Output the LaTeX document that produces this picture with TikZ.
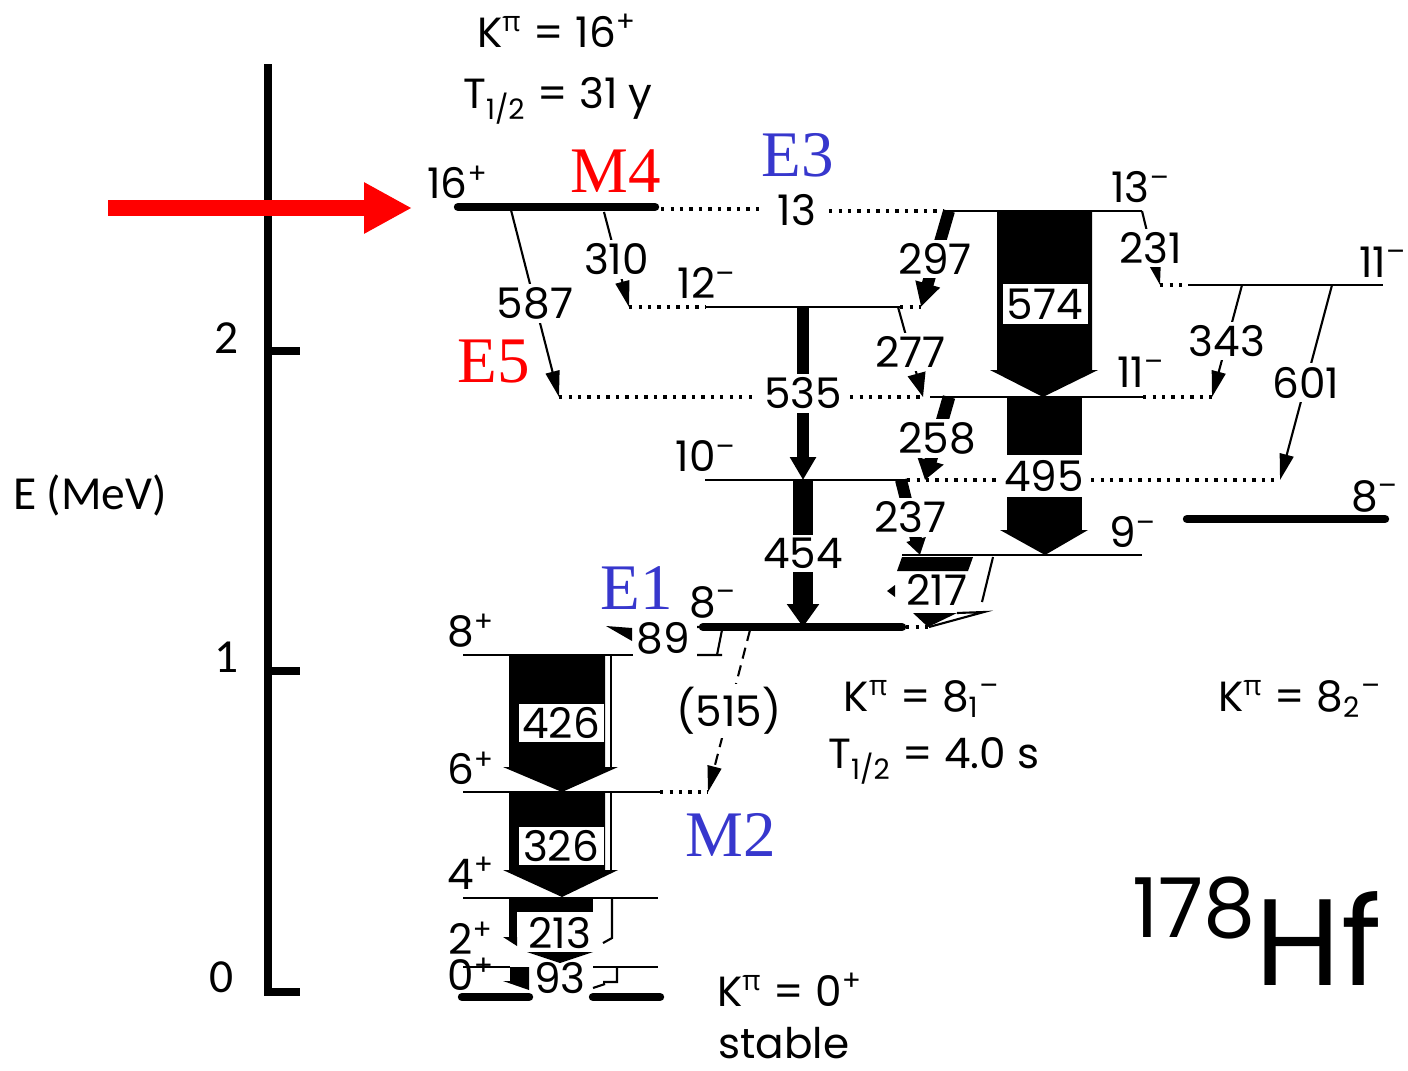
\documentclass[tikz,border=0pt]{standalone}
\usepackage{fontspec}
\setmainfont{Poppins}
\newfontfamily\grkfont{Open Sans}
\newfontfamily\serfont{Liberation Serif}
\newfontfamily\axfont{Carlito}
\usetikzlibrary{arrows.meta}
\definecolor{eblue}{RGB}{55,55,205}

\newcommand{\kpi}{K\textsuperscript{\grkfont π}}
\newcommand{\thalf}{T\textsubscript{1/2}}

\begin{document}
\begin{tikzpicture}[x=0.1mm, y=-0.1mm,
  every node/.style={font=\fontsize{12}{12}\selectfont, inner sep=1pt},
  lvl/.style={line width=0.6pt},
  klvl/.style={line width=2.4pt, line cap=round},
  dlvl/.style={line width=0.9pt, dash pattern=on 0.9pt off 1.8pt},
  gam/.style={line width=0.6pt, -{Triangle[length=2.6mm, width=1.4mm]}},
  glab/.style={fill=white},
  gbox/.style={fill=white, minimum width=8.5mm, minimum height=4mm},
  elab/.style={font=\serfont\fontsize{18.5}{18.5}\selectfont},
  axlab/.style={font=\axfont\fontsize{13.5}{13.5}\selectfont}]
  \useasboundingbox (0,0) rectangle (1408,1070);

  % energy axis
  \draw[line width=2.3pt] (268,64) -- (268,992) -- (300,992);
  \draw[line width=2.3pt] (268,351) -- (300,351) (268,671) -- (300,671);
  \node[axlab] (ax2) at (227,338) {2};
  \node[axlab] (ax1) at (227,657) {1};
  \node[axlab] (ax0) at (222,977) {0};
  \node[axlab] (elbl) at (90,495) {E (MeV)};
  \draw[red, line width=4.5pt, -{Triangle[length=4.8mm, width=4.8mm]}] (108,208) -- (412,208);

  % big intensity arrows
  \fill (997,211) -- (1092,211) -- (1092,370) -- (1098,370) -- (1043,397) -- (990,370) -- (997,370) -- cycle;
  \node[gbox] (g574) at (1045,304) {574};
  \fill (1007,397) rectangle (1082,530);
  \fill (1000,530) -- (1088,530) -- (1045,555) -- cycle;
  \node[gbox, minimum width=9.2mm, minimum height=4.2mm] (g495) at (1044,476) {495};
  \fill (509,655) -- (605,655) -- (605,767) -- (618,767) -- (562,792) -- (503,767) -- (509,767) -- cycle;
  \draw[line width=0.8pt] (611,655) -- (611,767);
  \node[gbox, minimum height=3.8mm] (g426) at (561,723) {426};
  \fill (509,792) -- (605,792) -- (605,870) -- (618,870) -- (562,897) -- (503,870) -- (509,870) -- cycle;
  \draw[line width=0.8pt] (611,792) -- (611,870);
  \node[gbox, minimum height=3.8mm] (g326) at (561,846) {326};
  \fill (509,898) rectangle (593,912);
  \fill (509,898) rectangle (517,940);
  \fill (503,937) -- (517,937) -- (517,946) -- cycle;
  \fill (527,952) -- (593,952) -- (560,963) -- cycle;
  \draw[line width=0.6pt] (612,898) -- (612,938) -- (603,943);
  \node (g213) at (560,933) {213};
  \fill (510,967) -- (529,967) -- (529,990) -- (503,981) -- (510,981) -- cycle;
  \draw[line width=0.6pt] (617,967) -- (617,982) -- (603,982) (593,988) -- (605,984);
  \node (g93) at (560,978) {93};

  % slanted bands
  \draw[line width=3.4pt, -{Triangle[length=2.4mm, width=2.4mm]}] (949,211) -- node[glab] (g297) {297} (921,307);
  \draw[line width=3.2pt, -{Triangle[length=2.3mm, width=2.5mm]}] (803,307) -- node[glab] (g535) {535} (803,480);
  \draw[line width=5.6pt, -{Triangle[length=2.3mm, width=3.1mm]}] (803,480) -- node[glab] (g454) {454} (803,627);
  \draw[line width=3.6pt, -{Triangle[length=2mm, width=2.6mm]}] (949,397) -- node[glab] (g258) {258} (925,480);
  \draw[line width=3.4pt, -{Triangle[length=1.6mm, width=1.9mm]}] (901,480) -- node[glab] (g237) {237} (920,555);
  \fill (902,557) -- (973,557) -- (968,571) -- (897,571) -- cycle;
  \node (g217) at (937,590) {217};
  \fill (913,613) -- (957,613) -- (928,627) -- cycle;
  \draw[line width=0.6pt] (993,557) -- (982,602) (957,613) -- (984,612) -- (929,627);
  \fill (887,591) -- (895,585) -- (895,597) -- cycle;
  \fill (606,626) -- (632,628) -- (632,641) -- cycle;
  \node (g89) at (663,638) {89};
  \draw[line width=0.6pt] (697,627) -- (704,627) (722,630) -- (717,655) (697,655) -- (722,655);

  % thin transitions
  \draw[gam] (511,210) -- node[glab] (g587) {587} (559,397);
  \draw[gam] (604,212) -- node[glab] (g310) {310} (629,307);
  \draw[gam] (1142,211) -- node[glab] (g231) {231} (1160,285);
  \draw[gam] (1242,285) -- node[glab] (g343) {343} (1212,397);
  \draw[gam] (1332,285) -- node[glab] (g601) {601} (1280,480);
  \draw[gam, -{Triangle[length=2.4mm, width=1.8mm]}] (898,307) -- node[glab] (g277) {277} (923,397);
  \draw[gam, dash pattern=on 3.2pt off 2pt] (750,630) -- node[glab] (g515) {(515)} (708,792);

  % levels
  \draw[klvl] (458,207) -- (655,207);
  \draw[dlvl] (661,209) -- (761,209) (829,211) -- (943,211);
  \node (g13) at (797,210) {13};
  \draw[lvl] (943,211) -- (1142,211);
  \draw[dlvl] (629,307) -- (705,307) (900,307) -- (921,307);
  \draw[lvl] (705,307) -- (900,307);
  \draw[dlvl] (1160,285) -- (1188,285);
  \draw[lvl] (1188,285) -- (1383,285);
  \draw[dlvl] (559,397) -- (757,397) (850,397) -- (923,397) (1143,397) -- (1212,397);
  \draw[lvl] (930,397) -- (1143,397);
  \draw[lvl] (705,480) -- (907,480);
  \draw[dlvl] (907,480) -- (998,480) (1091,480) -- (1280,480);
  \draw[lvl] (902,555) -- (1142,555);
  \draw[klvl] (703,627) -- (902,627);
  \draw[dlvl] (906,627) -- (928,627);
  \draw[klvl] (1187,519) -- (1385,519);
  \draw[lvl] (463,655) -- (633,655);
  \draw[lvl] (463,792) -- (660,792);
  \draw[dlvl] (660,792) -- (708,792);
  \draw[lvl] (463,898) -- (658,898);
  \draw[lvl] (463,967) -- (510,967) (593,967) -- (658,967);
  \draw[klvl] (462,997) -- (529,997) (593,997) -- (660,997);

  % spins
  \node (s16) at (458,182) {16\textsuperscript{+}};
  \node (s13) at (1141,187) {13\textsuperscript{--}};
  \node (s12) at (707,283) {12\textsuperscript{--}};
  \node (s11r) at (1383,262) {11\textsuperscript{--}};
  \node (s11m) at (1141,372) {11\textsuperscript{--}};
  \node (s10) at (706,456) {10\textsuperscript{--}};
  \node (s9) at (1133,532) {9\textsuperscript{--}};
  \node (s8a) at (713,602) {8\textsuperscript{--}};
  \node (s8b) at (1375,496) {8\textsuperscript{--}};
  \node (s8p) at (471,631) {8\textsuperscript{+}};
  \node (s6p) at (471,768) {6\textsuperscript{+}};
  \node (s4p) at (471,873) {4\textsuperscript{+}};
  \node (s2p) at (471,938) {2\textsuperscript{+}};
  \node (s0p) at (471,974) {0\textsuperscript{+}};

  % multipolarities
  \node[elab, red] (m4) at (616,171) {M4};
  \node[elab, eblue] (e3) at (798,155) {E3};
  \node[elab, red] (e5) at (494,362) {E5};
  \node[elab, eblue] (e1) at (637,588) {E1};
  \node[elab, eblue] (m2) at (731,835) {M2};

  % band info
  \node[anchor=base] (k16) at (557,47) {\kpi{} = 16\textsuperscript{+}};
  \node[anchor=base] (t16) at (558,108) {\thalf{} = 31 y};
  \node[anchor=base] (k8a) at (922,711) {\kpi{} = 8\textsubscript{1}\textsuperscript{--}};
  \node[anchor=base] (t8a) at (934,768) {\thalf{} = 4.0 s};
  \node[anchor=base] (k8b) at (1300,711) {\kpi{} = 8\textsubscript{2}\textsuperscript{--}};
  \node[anchor=base] (k0) at (790,1006) {\kpi{} = 0\textsuperscript{+}};
  \node[anchor=base, inner sep=0pt] (stab) at (784,1058) {stable};
  \node[anchor=base west] (nuc) at (1128,985) {\raisebox{13.5pt}{\fontsize{23.5}{23.5}\selectfont 178}\fontsize{35}{35}\selectfont Hf};
\end{tikzpicture}
\end{document}
